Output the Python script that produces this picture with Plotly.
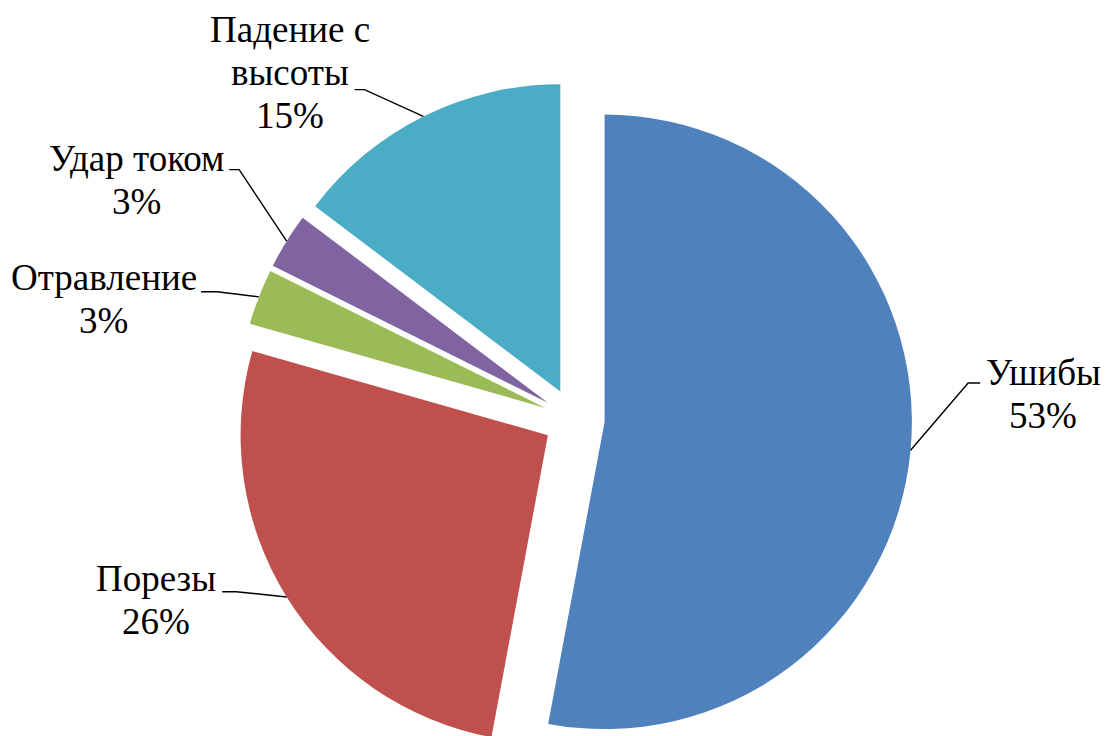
import math
import textwrap
import plotly.graph_objects as go

# ---- data ----
categories = ["Ушибы", "Порезы", "Отравление", "Удар током", "Падение с высоты"]
values = [18, 9, 1, 1, 5]

# ---- style ----
colors = ["#4F81BD", "#C0504D", "#9BBB59", "#8064A2", "#4BACC6"]
W, H = 1106, 758
BOX = 676.0            # pie domain size (px)
CX, CY = 574.4, 419.2  # pie centre (px)
PULL = 0.1
L = CX - BOX / 2
T = CY - BOX / 2
R_M = W - L - BOX
B_M = H - T - BOX
R = BOX / 2 / (1 + PULL)

label_rot = [-11.4, 5.1, -1.7, 5.3, -6.5]
label_k = [1.19, 1.135, 1.133, 1.259, 1.171]
stub = [12, 14, 16, 10, 10]
text_dx = [75, -80, -113.5, -102.5, -74]
text_dy = [2, -1, -2, 1, -48]
FONT = "Liberation Serif"
FSIZE = 37
PITCH = 43
BASE_TO_MID = 12.5


def to_paper(px, py):
    return (px - L) / BOX, (T + BOX - py) / BOX


def unit(ang):
    rad = math.radians(ang)
    return math.sin(rad), -math.cos(rad)


fig = go.Figure(go.Pie(
    labels=categories,
    values=values,
    sort=False,
    direction="clockwise",
    rotation=0,
    pull=[PULL] * len(values),
    marker=dict(colors=colors, line=dict(width=0)),
    textinfo="none",
    hoverinfo="label+percent",
    showlegend=False,
    domain=dict(x=[0, 1], y=[0, 1]),
))

total = sum(values)
shapes, annotations = [], []
cum = 0
for i, (name, v) in enumerate(zip(categories, values)):
    a0 = cum / total * 360
    cum += v
    a1 = cum / total * 360
    mid = (a0 + a1) / 2
    ux, uy = unit(mid)
    sx, sy = CX + PULL * R * ux, CY + PULL * R * uy
    px, py = sx + R * ux, sy + R * uy
    lx, ly = unit(mid + label_rot[i])
    ex, ey = sx + label_k[i] * R * lx, sy + label_k[i] * R * ly
    side = 1 if ux > 0 else -1
    qx, qy = ex + side * stub[i], ey
    pts = [to_paper(px, py), to_paper(ex, ey), to_paper(qx, qy)]
    path = "M {:.5f},{:.5f} L {:.5f},{:.5f} L {:.5f},{:.5f}".format(
        pts[0][0], pts[0][1], pts[1][0], pts[1][1], pts[2][0], pts[2][1])
    shapes.append(dict(type="path", xref="paper", yref="paper", path=path,
                       line=dict(color="black", width=1.4)))
    pct = round(v / total * 100)
    lines = textwrap.wrap(name, 10) + [f"{pct}%"]
    bx = ex + text_dx[i]
    for j, line in enumerate(lines):
        base = ey + text_dy[i] + j * PITCH
        ax_, ay_ = to_paper(bx, base - BASE_TO_MID)
        annotations.append(dict(
            text=line, x=ax_, y=ay_, xref="paper", yref="paper",
            xanchor="center", yanchor="middle", showarrow=False,
            font=dict(family=FONT, size=FSIZE, color="black"),
        ))

fig.update_layout(
    width=W, height=H,
    margin=dict(l=L, r=R_M, t=T, b=B_M, pad=0),
    paper_bgcolor="white", plot_bgcolor="white",
    shapes=shapes, annotations=annotations,
)

fig.write_html(
    "out.html",
    config={"displayModeBar": False},
    post_script="document.documentElement.style.overflow='hidden';document.body.style.overflow='hidden';",
)
